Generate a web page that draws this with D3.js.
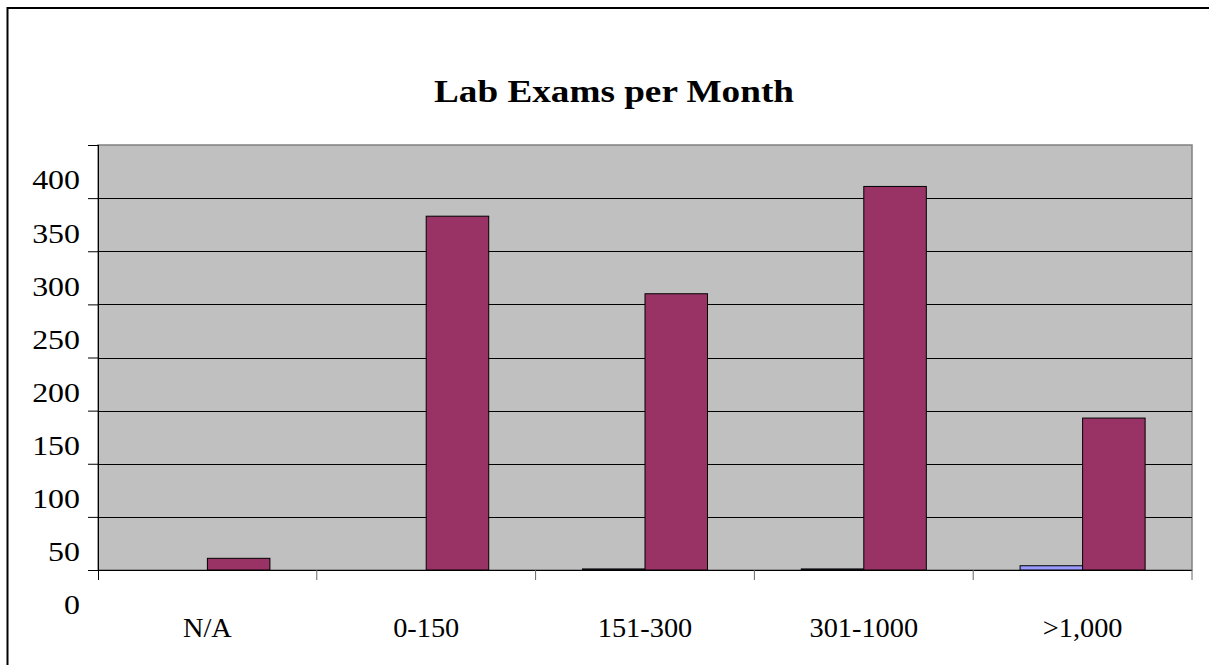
<!DOCTYPE html>
<html>
<head>
<meta charset="utf-8">
<script src="https://cdn.jsdelivr.net/npm/d3@7"></script>
<style>
  body { margin: 0; background: #fff; }
  text { font-family: "Liberation Serif", "Times New Roman", serif; fill: #000; }
</style>
</head>
<body>
<div id="chart"></div>
<script>
// data
var categories = ["N/A", "0-150", "151-300", "301-1000", ">1,000"];
var seriesNames = ["A", "B"];
var seriesA = [0, 0, 1, 1, 4];
var seriesB = [11, 333, 260, 361, 143];
var yTicks = [0, 50, 100, 150, 200, 250, 300, 350, 400];
var title = "Lab Exams per Month";

var w = 1209, h = 665;
var plotLeft = 98, plotRight = 1192, plotTop = 145, plotBottom = 570;

var svg = d3.select("#chart").append("svg")
    .attr("width", w)
    .attr("height", h);

// chart area border
svg.append("rect")
    .attr("x", 7.5).attr("y", 8)
    .attr("width", 1215).attr("height", 700)
    .attr("fill", "none")
    .attr("stroke", "#000")
    .attr("stroke-width", 2);

var xOuter = d3.scaleBand()
    .domain(categories)
    .range([plotLeft, plotRight])
    .padding(0);

var xInner = d3.scaleBand()
    .domain(seriesNames)
    .range([0, xOuter.bandwidth()])
    .paddingInner(0)
    .paddingOuter(0.75);

var yScale = d3.scaleLinear()
    .domain([0, 400])
    .range([plotBottom, plotTop]);

var z = d3.scaleOrdinal()
    .domain(seriesNames)
    .range(["#9999FF", "#993366"]);

// plot area
svg.append("rect")
    .attr("x", plotLeft).attr("y", plotTop)
    .attr("width", plotRight - plotLeft).attr("height", plotBottom - plotTop)
    .attr("fill", "#C0C0C0")
    .attr("stroke", "#808080")
    .attr("stroke-width", 1.5);

// gridlines
svg.append("g")
    .selectAll("line")
    .data(yTicks.filter(function(d) { return d > 0 && d < 400; }))
    .enter().append("line")
    .attr("x1", plotLeft).attr("x2", plotRight)
    .attr("y1", function(d) { return Math.round(yScale(d)) + 0.5; })
    .attr("y2", function(d) { return Math.round(yScale(d)) + 0.5; })
    .attr("stroke", "#000")
    .attr("stroke-width", 1);

// bars
var data = [];
categories.forEach(function(c, i) {
    data.push({cat: c, s: "A", val: seriesA[i]});
    data.push({cat: c, s: "B", val: seriesB[i]});
});

svg.append("g")
    .selectAll("rect")
    .data(data.filter(function(d) { return d.val > 0; }))
    .enter().append("rect")
    .attr("x", function(d) { return xOuter(d.cat) + xInner(d.s); })
    .attr("y", function(d) { return yScale(d.val); })
    .attr("width", xInner.bandwidth())
    .attr("height", function(d) { return plotBottom - yScale(d.val); })
    .attr("fill", function(d) { return z(d.s); })
    .attr("stroke", "#000")
    .attr("stroke-width", 1);

// y axis
var yAxis = d3.axisLeft(yScale)
    .tickValues(yTicks)
    .tickSize(10)
    .tickPadding(8)
    .tickFormat(d3.format("d"));

var gy = svg.append("g")
    .attr("transform", "translate(" + plotLeft + ",0)")
    .call(yAxis);
gy.select(".domain").attr("stroke", "#000").attr("d", "M0.5," + plotTop + "V" + (plotBottom + 10));
gy.selectAll(".tick line").attr("stroke", "#000");
// labels sit about 35px below their gridlines in the original
gy.selectAll(".tick text")
    .attr("font-size", 28)
    .attr("font-family", "Liberation Serif")
    .attr("x", 0)
    .attr("dy", "1.57em")
    .attr("transform", "translate(-18,0) scale(1.14,1)");

// x axis
var gx = svg.append("g")
    .attr("transform", "translate(0," + plotBottom + ")");
gx.append("line")
    .attr("x1", plotLeft).attr("x2", plotRight)
    .attr("y1", 0.5).attr("y2", 0.5)
    .attr("stroke", "#000");
gx.selectAll(".tk")
    .data(categories)
    .enter().append("line")
    .attr("x1", function(d) { return xOuter(d) + xOuter.bandwidth(); })
    .attr("x2", function(d) { return xOuter(d) + xOuter.bandwidth(); })
    .attr("y1", 0).attr("y2", 10)
    .attr("stroke", "#666");
gx.selectAll(".lbl")
    .data(categories)
    .enter().append("text")
    .attr("transform", function(d) {
        return "translate(" + (xOuter(d) + xOuter.bandwidth() / 2) + ",67) scale(1.05,1)";
    })
    .attr("text-anchor", "middle")
    .attr("font-size", 27)
    .text(function(d) { return d; });

// title
svg.append("text")
    .attr("transform", "translate(614,102) scale(1.2,1)")
    .attr("text-anchor", "middle")
    .attr("font-size", 31)
    .attr("font-weight", "bold")
    .text(title);
</script>
</body>
</html>
